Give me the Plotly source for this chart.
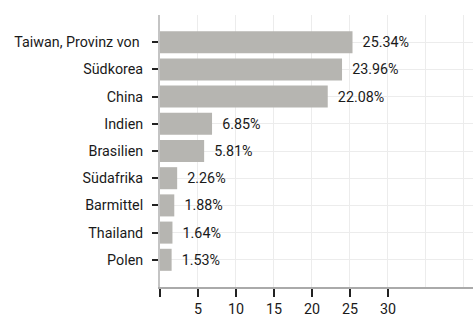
import plotly.graph_objects as go

categories = ["Taiwan, Provinz von ", "Südkorea", "China", "Indien", "Brasilien",
              "Südafrika", "Barmittel", "Thailand", "Polen"]
values = [25.34, 23.96, 22.08, 6.85, 5.81, 2.26, 1.88, 1.64, 1.53]
x_tickvals = [0, 5, 10, 15, 20, 25, 30]
x_ticktext = ["", "5", "10", "15", "20", "25", "30"]
x_minor_grid = [35, 40]

labels = ["  " + f"{v:.2f}%" for v in values]

FONT = "Roboto"
FS = 14.3
fig = go.Figure(go.Bar(
    x=values, y=categories, orientation="h",
    marker=dict(color="#b6b5b1", line=dict(width=0)),
    text=labels, textposition="outside", cliponaxis=False,
    textfont=dict(family=FONT, size=FS, color="#1a1a1a"),
    hoverinfo="skip",
))

fig.update_layout(
    width=473, height=316,
    margin=dict(l=160, r=0, t=15, b=29, autoexpand=False),
    paper_bgcolor="white", plot_bgcolor="white",
    bargap=0.19, showlegend=False,
    font=dict(family=FONT, size=FS, color="#1a1a1a"),
)
fig.update_xaxes(
    range=[0, 41.2], tickvals=x_tickvals, ticktext=x_ticktext,
    automargin=False,
    showgrid=True, gridcolor="#ececec", gridwidth=1,
    showline=True, linecolor="#aaaaaa", linewidth=1.5,
    ticks="outside", ticklen=8, tickwidth=2, tickcolor="#222222",
    ticklabelstandoff=0,
    zeroline=False,
    minor=dict(tickvals=x_minor_grid, showgrid=True, gridcolor="#ececec", ticks=""),
    tickfont=dict(family=FONT, size=FS, color="#1a1a1a"),
)
fig.update_yaxes(
    type="category", range=[9, -1],
    automargin=False,
    showgrid=True, gridcolor="#ececec", gridwidth=1,
    showline=True, linecolor="#c4c4c4", linewidth=2,
    ticks="outside", ticklen=6, tickwidth=2, tickcolor="#222222",
    ticklabelstandoff=6,
    zeroline=False,
    tickfont=dict(family=FONT, size=FS, color="#1a1a1a"),
)

fig.write_html(
    "out.html",
    config={"displayModeBar": False},
    post_script="document.body.style.margin='0';document.body.style.overflow='hidden';",
)
